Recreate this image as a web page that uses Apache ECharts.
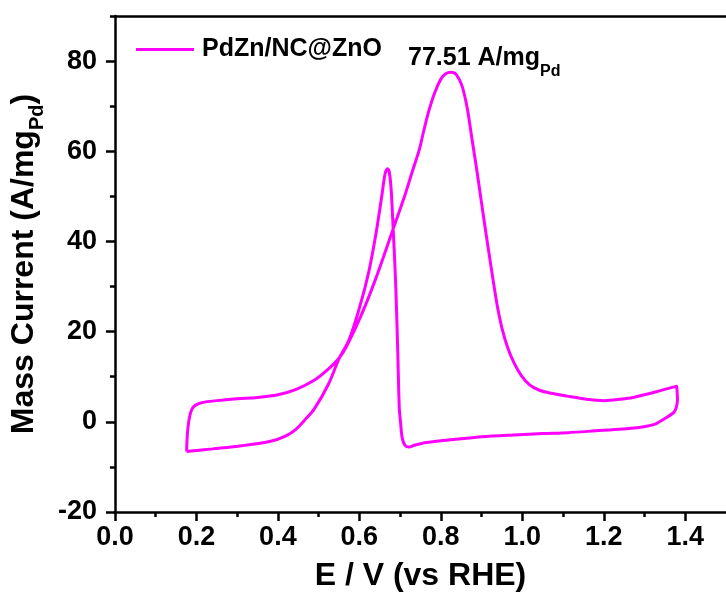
<!DOCTYPE html>
<html>
<head>
<meta charset="utf-8">
<script src="https://cdn.jsdelivr.net/npm/echarts@6/dist/echarts.min.js"></script>
<style>html,body{margin:0;padding:0;background:#fff;}#c{width:726px;height:597px;}</style>
</head>
<body>
<div id="c"></div>
<script>
// ---- data ----
var seriesName = 'PdZn/NC@ZnO';
// forward (anodic) scan: potential (V vs RHE) and mass current (A/mg_Pd)
var forwardV = [0.176,0.177,0.179,0.183,0.189,0.198,0.215,0.25,0.30,0.35,0.40,0.445,0.489,0.525,0.551,0.569,0.605,0.640,0.680,0.712,0.730,0.747,0.758,0.770,0.785,0.800,0.812,0.825,0.838,0.852,0.865,0.876,0.888,0.900,0.913,0.926,0.938,0.950,0.964,0.980,0.998,1.018,1.042,1.068,1.11,1.157,1.201,1.24,1.272,1.335,1.379];
var forwardI = [-6.6,-4.0,-1.5,1.0,2.8,3.7,4.3,4.7,5.1,5.4,6.0,7.2,9.2,11.8,14.2,16.8,23.7,31.7,42.0,50.3,55.5,60.3,64.5,68.8,73.0,76.0,77.2,77.5,77.0,74.5,69.5,63.0,56.0,48.5,40.5,32.8,26.0,20.8,16.5,13.0,10.2,8.2,7.0,6.4,5.7,5.0,4.7,5.0,5.4,6.8,7.9];
// reverse (cathodic) scan
var reverseV = [1.380,1.381,1.378,1.372,1.353,1.326,1.29,1.246,1.18,1.112,1.05,0.979,0.90,0.845,0.765,0.735,0.722,0.712,0.705,0.701,0.698,0.694,0.689,0.683,0.678,0.673,0.669,0.663,0.654,0.640,0.623,0.600,0.574,0.551,0.525,0.489,0.465,0.445,0.42,0.382,0.311,0.240,0.176];
var reverseI = [6.5,5.0,3.2,2.1,0.9,-0.5,-1.2,-1.6,-2.0,-2.4,-2.6,-2.9,-3.3,-3.8,-4.6,-5.2,-5.6,-5.2,-3.5,0.0,3.1,16.4,31.0,42.8,51.6,55.6,56.1,54.9,49.4,41.3,33.2,25.2,18.0,14.2,8.5,2.8,0.3,-1.6,-3.1,-4.3,-5.3,-6.0,-6.6];
var xTickValues = [0,0.2,0.4,0.6,0.8,1.0,1.2,1.4];
var xMinorTickValues = [0.1,0.3,0.5,0.7,0.9,1.1,1.3];
var yTickValues = [-20,0,20,40,60,80];
var yMinorTickValues = [-10,10,30,50,70,90];
var peakLabel = '77.51 A/mg';
var peakLabelSub = 'Pd';

// ---- build ----
var pts = [];
for (var i = 0; i < forwardV.length; i++) pts.push([forwardV[i], forwardI[i]]);
for (var j = 0; j < reverseV.length; j++) pts.push([reverseV[j], reverseI[j]]);

var FF = "'Liberation Sans', Arial, sans-serif";
var black = '#000';
var chart = echarts.init(document.getElementById('c'), null, {renderer: 'canvas'});
chart.setOption({
  animation: false,
  backgroundColor: '#fff',
  grid: {left: 113, right: -8, top: 16, bottom: 82, containLabel: false},
  legend: {
    data: [{name: seriesName, icon: 'rect'}], left: 136, top: 37, padding: 0,
    itemWidth: 58, itemHeight: 3, itemGap: 10,
    textStyle: {fontFamily: FF, fontWeight: 'bold', fontSize: 25, color: black, padding: [0,0,0,3]}
  },
  graphic: [{
    type: 'text', left: 408, top: 46,
    style: {
      text: '{a|' + peakLabel + '}{s|' + peakLabelSub + '}',
      rich: {
        a: {fontFamily: FF, fontWeight: 'bold', fontSize: 25, fill: black, lineHeight: 30},
        s: {fontFamily: FF, fontWeight: 'bold', fontSize: 16, fill: black, lineHeight: 30, verticalAlign: 'bottom', padding: [0,0,-6,0]}
      }
    }
  }],
  xAxis: [{
    type: 'value', min: 0, max: 1.5, position: 'bottom',
    name: 'E / V (vs RHE)', nameLocation: 'middle', nameGap: 48,
    nameTextStyle: {fontFamily: FF, fontWeight: 'bold', fontSize: 32, color: black},
    axisLine: {show: true, onZero: false, lineStyle: {color: black, width: 2.5}},
    axisTick: {show: true, inside: false, length: 9, lineStyle: {color: black, width: 2.5}, customValues: xTickValues},
    axisLabel: {show: true, margin: 12, customValues: xTickValues, formatter: function(v){return v.toFixed(1);},
      fontFamily: FF, fontWeight: 'bold', fontSize: 27, color: black},
    splitLine: {show: false}
  }, {
    type: 'value', min: 0, max: 1.5, position: 'bottom',
    axisLine: {show: false, onZero: false},
    axisTick: {show: true, inside: false, length: 5, lineStyle: {color: black, width: 2.5}, customValues: xMinorTickValues},
    axisLabel: {show: false},
    splitLine: {show: false}
  }, {
    type: 'value', min: 0, max: 1.5, position: 'top',
    axisLine: {show: true, onZero: false, lineStyle: {color: black, width: 2.5}},
    axisTick: {show: false}, axisLabel: {show: false}, splitLine: {show: false}
  }],
  yAxis: [{
    type: 'value', min: -20, max: 90, position: 'left',
    name: '{a|Mass Current (A/mg}{s|Pd}{a|)}', nameLocation: 'middle', nameGap: 66,
    nameTextStyle: {
      rich: {
        a: {fontFamily: FF, fontWeight: 'bold', fontSize: 32, color: black, lineHeight: 36},
        s: {fontFamily: FF, fontWeight: 'bold', fontSize: 20, color: black, lineHeight: 36, verticalAlign: 'bottom', padding: [0,0,-5,0]}
      }
    },
    axisLine: {show: true, onZero: false, lineStyle: {color: black, width: 2.5}},
    axisTick: {show: true, inside: false, length: 9, lineStyle: {color: black, width: 2.5}, customValues: yTickValues},
    axisLabel: {show: true, margin: 18, customValues: yTickValues,
      fontFamily: FF, fontWeight: 'bold', fontSize: 27, color: black},
    splitLine: {show: false}
  }, {
    type: 'value', min: -20, max: 90, position: 'left',
    axisLine: {show: false, onZero: false},
    axisTick: {show: true, inside: false, length: 5, lineStyle: {color: black, width: 2.5}, customValues: yMinorTickValues},
    axisLabel: {show: false},
    splitLine: {show: false}
  }],
  series: [{
    name: seriesName, type: 'line', data: pts,
    xAxisIndex: 0, yAxisIndex: 0,
    symbol: 'none', smooth: 0.3,
    lineStyle: {color: '#FF00FF', width: 3},
    itemStyle: {color: '#FF00FF'}
  }]
});
</script>
</body>
</html>
